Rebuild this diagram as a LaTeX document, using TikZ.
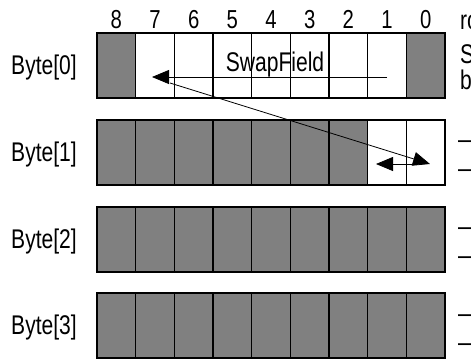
\documentclass[tikz,border=0pt]{standalone}
\usepackage{fontspec}
\setmainfont{Liberation Sans}[FakeStretch=0.78]
\usetikzlibrary{arrows.meta}
\definecolor{cellgrey}{HTML}{808080}
\tikzset{
  cell/.style={draw=black, line width=1.3pt, minimum width=38.67pt, minimum height=65pt, inner sep=0pt, outer sep=0pt},
  lbl/.style={font=\fontsize{27}{31}\selectfont, inner sep=0pt},
  numlbl/.style={font=\fontsize{26}{30}\selectfont, inner sep=0pt},
  arr/.style={line width=0.8pt, -{Triangle[length=17pt,width=14pt]}},
}
\begin{document}
\begin{tikzpicture}[x=1pt,y=-1pt]
\useasboundingbox (0,0) rectangle (471,360);
% rows
\foreach \r/\yc in {0/65.5,1/152.5,2/239.5,3/325.5}{
  \foreach \i in {0,...,8}{
    \pgfmathtruncatemacro{\bitno}{8-\i}
    \def\fc{cellgrey}
    \ifnum\r=0 \ifnum\i>0 \ifnum\i<8 \def\fc{white}\fi\fi\fi
    \ifnum\r=1 \ifnum\i>6 \def\fc{white}\fi\fi
    \node[cell, fill=\fc] (c\r-\bitno) at ({97+38.67*(\i+0.5)},\yc) {};
  }
}
% column numbers
\foreach \i in {0,...,8}{
  \pgfmathtruncatemacro{\bitno}{8-\i}
  \node[numlbl, anchor=base] (n\bitno) at ({97+38.67*(\i+0.5)},28.5) {\bitno};
}
% byte labels
\node[lbl, anchor=base] (b0) at (44,74.5) {Byte[0]};
\node[lbl, anchor=base] (b1) at (44,161.5) {Byte[1]};
\node[lbl, anchor=base] (b2) at (44,248.5) {Byte[2]};
\node[lbl, anchor=base] (b3) at (44,334.5) {Byte[3]};
% swap field label
\node[lbl, anchor=base] (sf) at (275,71) {SwapField};
% right side text (clipped)
\node[lbl, anchor=base west] (t1) at (460,29) {ro};
\node[inner sep=0pt, font=\fontsize{27}{26}\selectfont, align=left, anchor=north west] (t2) at (460,44) {S\\b};
\foreach \k/\yy in {1/141,2/170,3/228,4/257,5/315,6/344}{
  \node[lbl, anchor=base west] (d\k) at (458,{\yy+7}) {—};
}
% arrows
\coordinate (a0) at (387,77);
\coordinate (a1) at (152,77);
\coordinate (a2) at (170,83);
\coordinate (a3) at (430,164);
\coordinate (a4) at (413,164);
\coordinate (a5) at (376,164);
\draw[arr] (a0) -- (a1);
\draw[arr] (a2) -- (a3);
\draw[arr] (a4) -- (a5);
\end{tikzpicture}
\end{document}
